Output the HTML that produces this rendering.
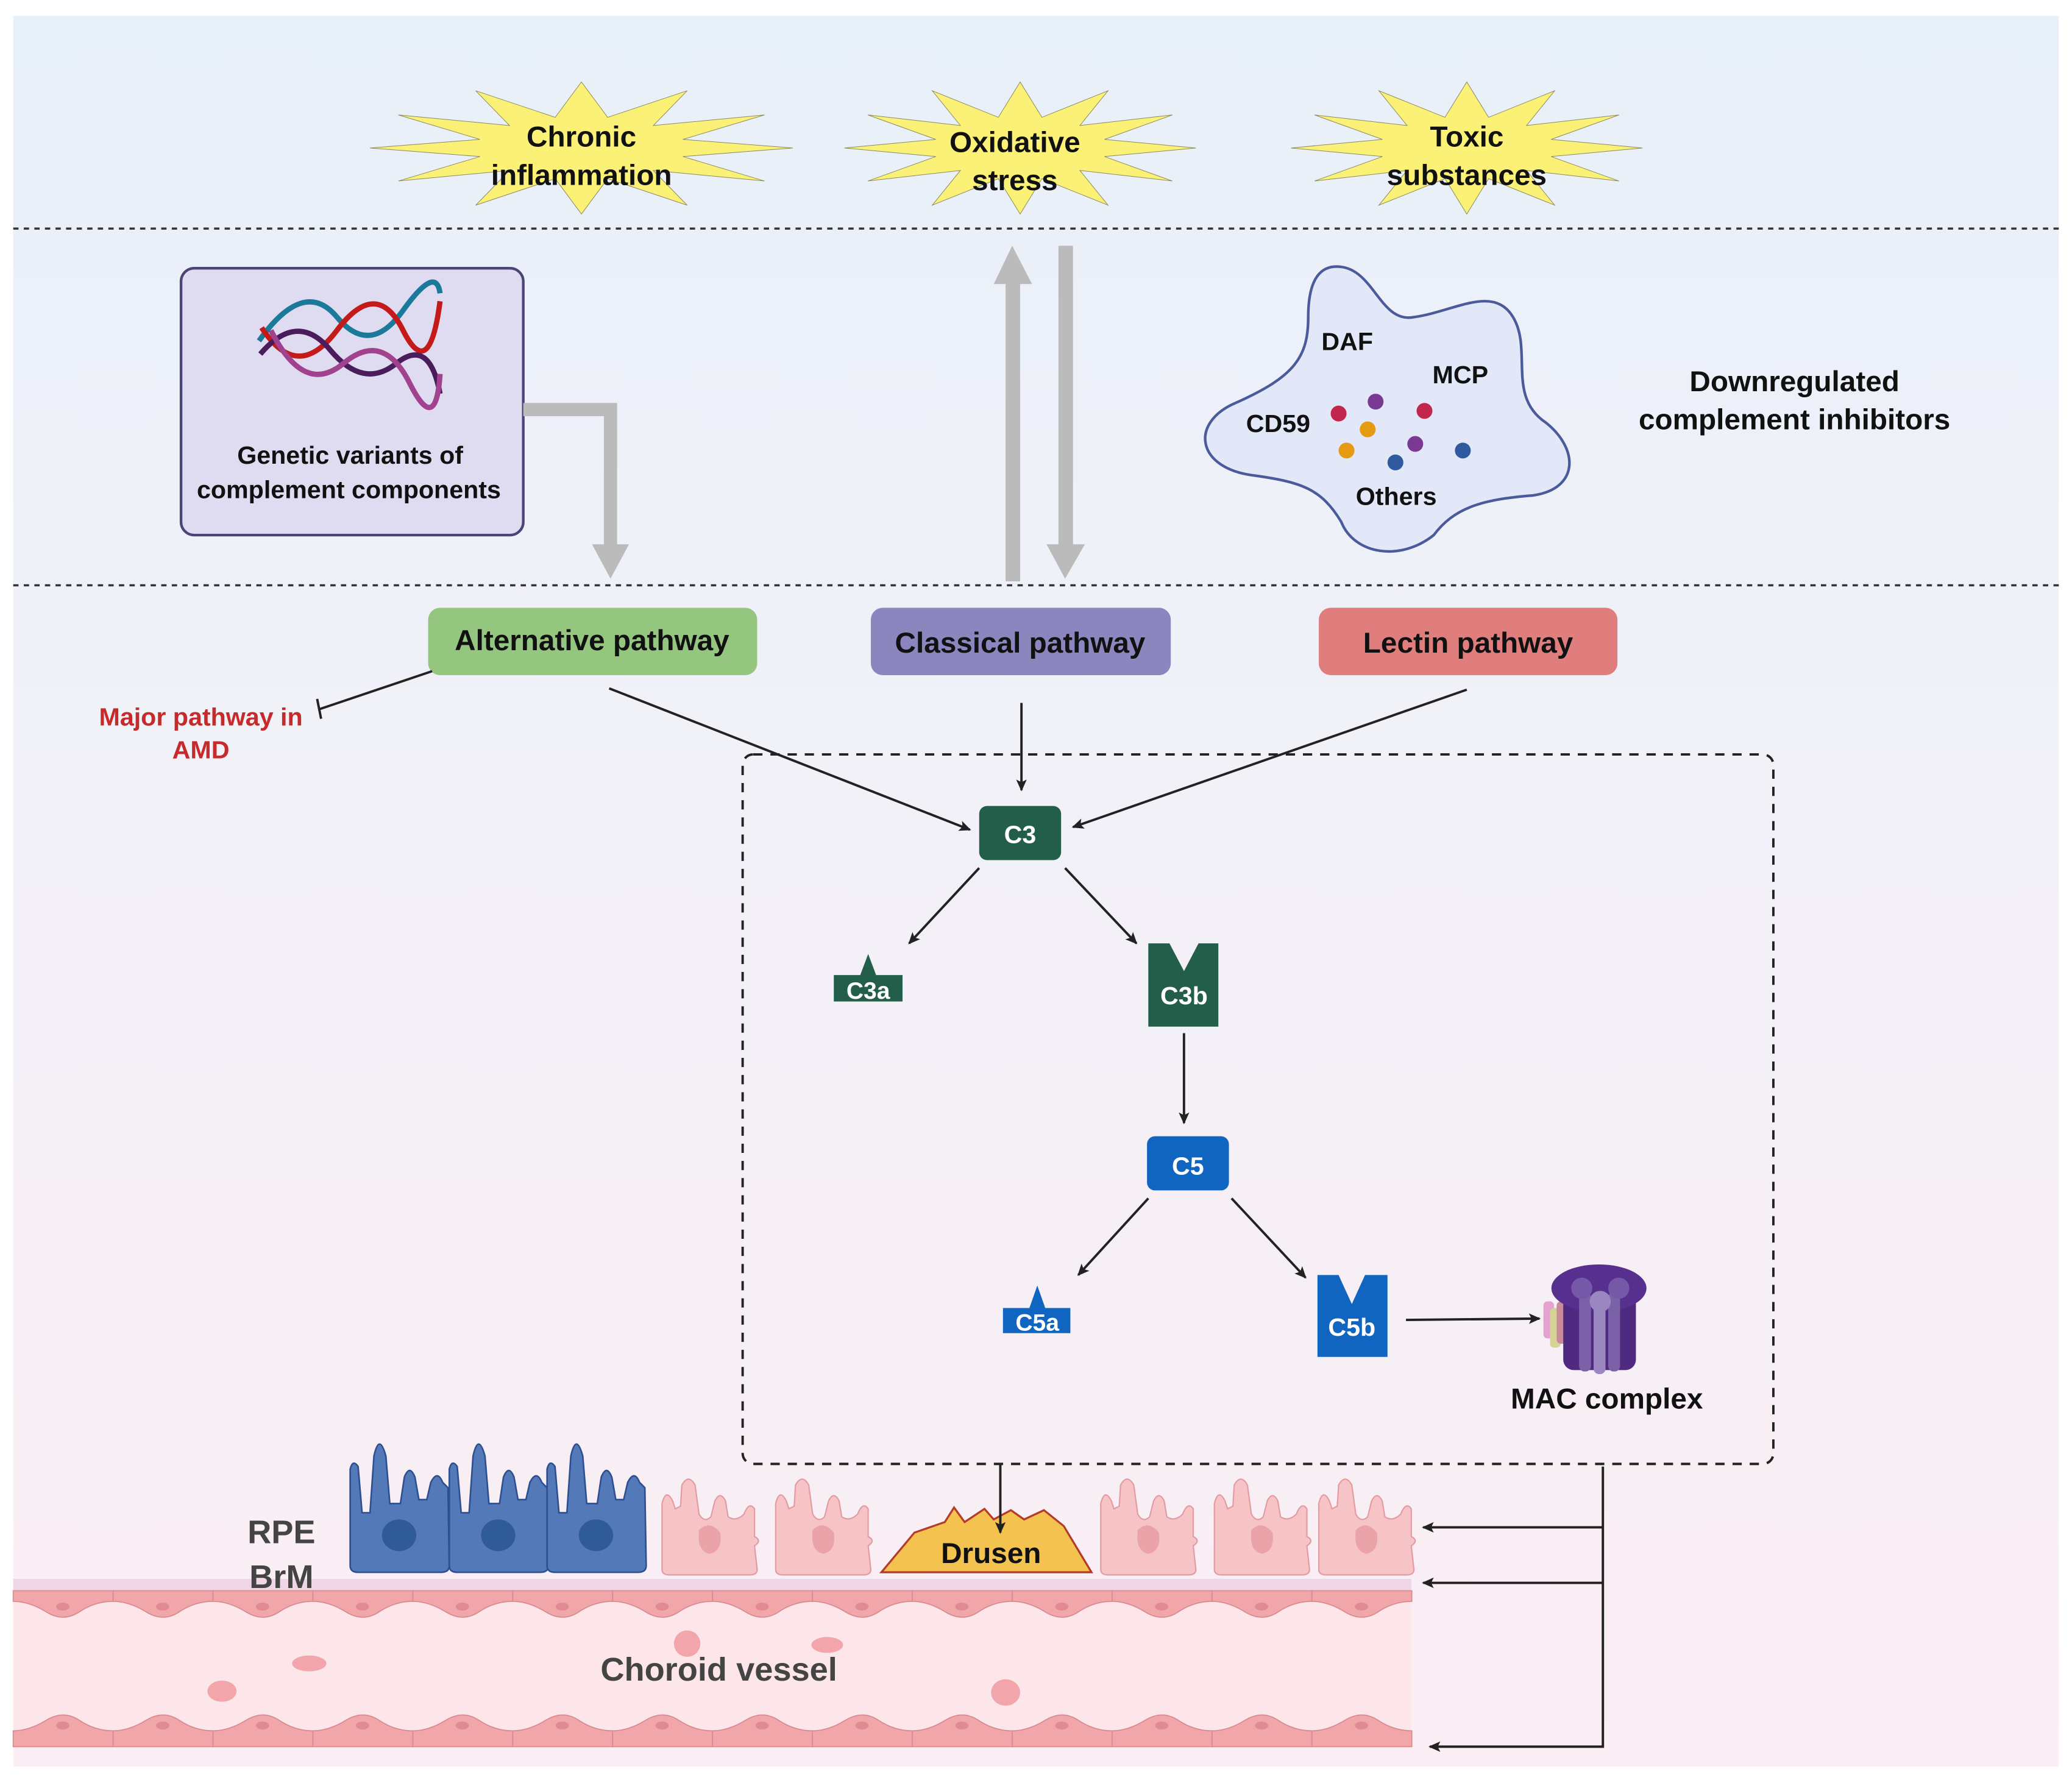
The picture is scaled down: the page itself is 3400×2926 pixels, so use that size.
<!DOCTYPE html>
<html><head><meta charset="utf-8"><style>
html,body{margin:0;padding:0;background:#fff;}
svg{display:block;}
text{font-family:"Liberation Sans",Arial,sans-serif;font-weight:bold;}
</style></head><body>
<svg width="3400" height="2926" viewBox="0 0 1568 1349.5" preserveAspectRatio="none" xmlns="http://www.w3.org/2000/svg">
<defs>
<linearGradient id="bg" x1="0" y1="0" x2="0" y2="1">
<stop offset="0" stop-color="#e8f0f8"/><stop offset="0.4" stop-color="#f1f1f8"/><stop offset="1" stop-color="#fbeef4"/>
</linearGradient>
<polygon id="star" points="1,0 0.48,0.13 0.866,0.5 0.34,0.34 0.5,0.866 0.124,0.464 0,1 -0.124,0.464 -0.5,0.866 -0.34,0.34 -0.866,0.5 -0.48,0.13 -1,0 -0.48,-0.13 -0.866,-0.5 -0.34,-0.34 -0.5,-0.866 -0.124,-0.464 0,-1 0.124,-0.464 0.5,-0.866 0.34,-0.34 0.866,-0.5 0.48,-0.13" fill="#fbf176" stroke="#8a8a60" stroke-width="1" vector-effect="non-scaling-stroke"/>
<marker id="ah" markerWidth="10" markerHeight="10" refX="8" refY="5" orient="auto" markerUnits="userSpaceOnUse"><path d="M0,1 L9,5 L0,9 L2,5Z" fill="#222"/></marker>
<g id="blue">
<path d="M0,95 L0,22 Q2,14 6,20 L9,55 L15,55 L18,12 Q22,-6 27,12 L30,48 L38,48 L41,28 Q45,18 49,28 L52,45 L58,45 L61,32 Q66,22 70,32 L74,36 L75,95 Q75,100 69,100 L6,100 Q0,100 0,95Z" fill="#5379b8" stroke="#2d4f8f" stroke-width="1.2"/>
<ellipse cx="37" cy="72" rx="13" ry="12" fill="#2f5c99"/>
</g>
<g id="pink">
<path d="M0,70 L0,20 Q3,8 8,18 L10,24 L14,22 L15,6 Q20,-3 25,6 L28,28 Q32,35 37,30 L40,18 Q44,10 48,18 L50,30 Q56,34 62,28 Q66,18 70,24 L70,45 Q76,48 70,52 L72,70 Q72,74 66,74 L6,74 Q0,74 0,70Z" fill="#f6c4c7" stroke="#e39ba2" stroke-width="1"/>
<path d="M28,40 Q36,32 44,42 Q46,56 36,58 Q26,56 28,40Z" fill="#eaa3a9"/>
</g>
<g id="endo"><path d="M0,0 L75.6,0 L75.6,8 Q62,8 50,16 Q38,24 25,16 Q12,8 0,8Z" fill="#f1a6aa" stroke="#d98a91" stroke-width="0.8"/><ellipse cx="37.5" cy="12" rx="5" ry="3" fill="#e08a92"/></g>
<g id="endo2"><path d="M0,22 L75.6,22 L75.6,10 Q62,10 50,2 Q38,-6 25,2 Q12,10 0,10Z" fill="#f1a6aa" stroke="#d98a91" stroke-width="0.8"/><ellipse cx="37.5" cy="6" rx="5" ry="3" fill="#e08a92"/></g>
</defs>

<rect x="10" y="12" width="1548" height="1325" fill="url(#bg)"/>

<use href="#star" transform="translate(440,112) scale(160,50)"/>
<use href="#star" transform="translate(772,112) scale(133,50)"/>
<use href="#star" transform="translate(1110,112) scale(133,50)"/>
<text x="440" y="111" font-size="22" text-anchor="middle" fill="#111">Chronic</text>
<text x="440" y="140" font-size="22" text-anchor="middle" fill="#111">inflammation</text>
<text x="768" y="115" font-size="22" text-anchor="middle" fill="#111">Oxidative</text>
<text x="768" y="144" font-size="22" text-anchor="middle" fill="#111">stress</text>
<text x="1110" y="111" font-size="22" text-anchor="middle" fill="#111">Toxic</text>
<text x="1110" y="140" font-size="22" text-anchor="middle" fill="#111">substances</text>

<line x1="10" y1="173" x2="1558" y2="173" stroke="#333" stroke-width="1.6" stroke-dasharray="4,4"/>
<line x1="10" y1="443" x2="1558" y2="443" stroke="#333" stroke-width="1.6" stroke-dasharray="4,4"/>

<rect x="137" y="203" width="259" height="202" rx="10" fill="#dfdcf2" stroke="#4a4575" stroke-width="2"/>
<g fill="none" stroke-width="4">
<path d="M196,258 Q230,210 255,240 T305,235 T333,222" stroke="#1b7a9a"/>
<path d="M198,248 Q225,290 255,250 T305,250 T333,228" stroke="#c41a1a"/>
<path d="M197,268 Q225,235 250,265 T300,275 T333,298" stroke="#4a1c5c"/>
<path d="M205,250 Q230,300 260,275 T310,290 T333,283" stroke="#a0428e"/>
</g>
<text x="265" y="351" font-size="19" text-anchor="middle" fill="#111">Genetic variants of</text>
<text x="264" y="377" font-size="19" text-anchor="middle" fill="#111">complement components</text>

<path d="M396,310 L462,310 L462,415" fill="none" stroke="#bbb" stroke-width="10"/>
<polygon points="448,412 476,412 462,438" fill="#bbb"/>
<rect x="761" y="212" width="11" height="228" fill="#bbb"/>
<polygon points="752,215 781,215 766,186" fill="#bbb"/>
<rect x="801" y="186" width="11" height="228" fill="#bbb"/>
<polygon points="792,412 821,412 806,438" fill="#bbb"/>

<path d="M1015,202 C1040,205 1045,245 1070,240 C1100,236 1130,215 1145,240 C1160,265 1140,300 1170,320 C1195,340 1195,370 1160,375 C1120,378 1100,385 1085,405 C1060,425 1025,420 1015,395 C1000,370 985,365 950,360 C905,355 900,320 935,305 C980,285 990,270 990,240 C990,210 1000,200 1015,202Z" fill="#e2e8f7" stroke="#4a5a9a" stroke-width="2"/>
<text x="1000" y="265" font-size="19" fill="#111">DAF</text>
<text x="1084" y="290" font-size="19" fill="#111">MCP</text>
<text x="943" y="327" font-size="19" fill="#111">CD59</text>
<text x="1026" y="382" font-size="19" fill="#111">Others</text>
<circle cx="1013" cy="313" r="6" fill="#c2264c"/>
<circle cx="1041" cy="304" r="6" fill="#7a3a94"/>
<circle cx="1078" cy="311" r="6" fill="#c2264c"/>
<circle cx="1035" cy="325" r="6" fill="#e59a12"/>
<circle cx="1019" cy="341" r="6" fill="#e59a12"/>
<circle cx="1071" cy="336" r="6" fill="#7a3a94"/>
<circle cx="1056" cy="350" r="6" fill="#2f5aa0"/>
<circle cx="1107" cy="341" r="6" fill="#2f5aa0"/>
<text x="1358" y="296" font-size="22" text-anchor="middle" fill="#111">Downregulated</text>
<text x="1358" y="325" font-size="22" text-anchor="middle" fill="#111">complement inhibitors</text>

<rect x="324" y="460" width="249" height="51" rx="9" fill="#94c680"/>
<text x="448" y="492" font-size="22" text-anchor="middle" fill="#111">Alternative pathway</text>
<rect x="659" y="460" width="227" height="51" rx="9" fill="#8b86bd"/>
<text x="772" y="494" font-size="22" text-anchor="middle" fill="#111">Classical pathway</text>
<rect x="998" y="460" width="226" height="51" rx="9" fill="#e07e7e"/>
<text x="1111" y="494" font-size="22" text-anchor="middle" fill="#111">Lectin pathway</text>

<line x1="327" y1="508" x2="241" y2="537" stroke="#222" stroke-width="1.8"/>
<line x1="240" y1="529" x2="243" y2="544" stroke="#222" stroke-width="1.8"/>
<text x="152" y="549" font-size="19" text-anchor="middle" fill="#c62a2a">Major pathway in</text>
<text x="152" y="574" font-size="19" text-anchor="middle" fill="#c62a2a">AMD</text>

<rect x="562" y="571" width="780" height="537" rx="8" fill="none" stroke="#222" stroke-width="1.8" stroke-dasharray="7,6"/>

<!-- bottom tissue -->
<rect x="10" y="1195" width="1058" height="11" fill="#eed6e6"/>
<rect x="10" y="1206" width="1058" height="114" fill="#fde6e9"/>
<g transform="translate(10,1204)">
<use href="#endo" x="0"/><use href="#endo" x="75.6"/><use href="#endo" x="151.2"/><use href="#endo" x="226.8"/><use href="#endo" x="302.4"/><use href="#endo" x="378"/><use href="#endo" x="453.6"/><use href="#endo" x="529.2"/><use href="#endo" x="604.8"/><use href="#endo" x="680.4"/><use href="#endo" x="756"/><use href="#endo" x="831.6"/><use href="#endo" x="907.2"/><use href="#endo" x="982.8"/>
</g>
<g transform="translate(10,1300)">
<use href="#endo2" x="0"/><use href="#endo2" x="75.6"/><use href="#endo2" x="151.2"/><use href="#endo2" x="226.8"/><use href="#endo2" x="302.4"/><use href="#endo2" x="378"/><use href="#endo2" x="453.6"/><use href="#endo2" x="529.2"/><use href="#endo2" x="604.8"/><use href="#endo2" x="680.4"/><use href="#endo2" x="756"/><use href="#endo2" x="831.6"/><use href="#endo2" x="907.2"/><use href="#endo2" x="982.8"/>
</g>
<g fill="#f2a5ab">
<ellipse cx="520" cy="1244" rx="10" ry="10"/><ellipse cx="626" cy="1245" rx="12" ry="6"/>
<ellipse cx="234" cy="1259" rx="13" ry="6"/><ellipse cx="168" cy="1280" rx="11" ry="8"/><ellipse cx="761" cy="1281" rx="11" ry="10"/>
</g>
<text x="544" y="1272" font-size="25" text-anchor="middle" fill="#444">Choroid vessel</text>

<use href="#blue" transform="translate(265,1090)"/>
<use href="#blue" transform="translate(340,1090)"/>
<use href="#blue" transform="translate(414,1090)"/>
<use href="#pink" transform="translate(501,1118)"/>
<use href="#pink" transform="translate(587,1118)"/>
<use href="#pink" transform="translate(833,1118)"/>
<use href="#pink" transform="translate(919,1118)"/>
<use href="#pink" transform="translate(998,1118)"/>
<path d="M667,1190 L692,1160 L715,1152 L722,1141 L730,1152 L745,1142 L752,1150 L765,1143 L775,1150 L790,1143 L805,1155 L826,1190Z" fill="#f4c24e" stroke="#b53a2a" stroke-width="1.5"/>
<text x="750" y="1183" font-size="22" text-anchor="middle" fill="#111">Drusen</text>
<text x="213" y="1168" font-size="25" text-anchor="middle" fill="#444">RPE</text>
<text x="213" y="1202" font-size="25" text-anchor="middle" fill="#444">BrM</text>

<g stroke="#222" stroke-width="1.8" fill="none" marker-end="url(#ah)">
<line x1="461" y1="521" x2="734" y2="628"/>
<line x1="773" y1="532" x2="773" y2="598"/>
<line x1="1110" y1="522" x2="812" y2="626"/>
<line x1="741" y1="657" x2="688" y2="714"/>
<line x1="806" y1="657" x2="860" y2="714"/>
<line x1="896" y1="782" x2="896" y2="850"/>
<line x1="869" y1="907" x2="816" y2="965"/>
<line x1="932" y1="907" x2="988" y2="967"/>
<line x1="1064" y1="999" x2="1165" y2="998"/>
<line x1="757" y1="1108" x2="757" y2="1160"/>
<polyline points="1213,1110 1213,1322 1082,1322"/>
<line x1="1213" y1="1156" x2="1077" y2="1156"/>
<line x1="1213" y1="1198" x2="1077" y2="1198"/>
</g>

<rect x="741" y="610" width="62" height="41" rx="6" fill="#225e4a"/>
<text x="772" y="638" font-size="19" text-anchor="middle" fill="#fff">C3</text>
<path d="M631,738 L651,738 L657,722 L663,738 L683,738 L683,758 L631,758Z" fill="#225e4a"/>
<text x="657" y="756" font-size="18" text-anchor="middle" fill="#fff">C3a</text>
<path d="M869,714 L885,714 L896,735 L907,714 L922,714 L922,777 L869,777Z" fill="#225e4a"/>
<text x="896" y="760" font-size="19" text-anchor="middle" fill="#fff">C3b</text>
<rect x="868" y="860" width="62" height="41" rx="6" fill="#1065c0"/>
<text x="899" y="889" font-size="19" text-anchor="middle" fill="#fff">C5</text>
<path d="M759,990 L779,990 L785,973 L791,990 L810,990 L810,1009 L759,1009Z" fill="#1065c0"/>
<text x="785" y="1007" font-size="18" text-anchor="middle" fill="#fff">C5a</text>
<path d="M997,965 L1013,965 L1023,987 L1033,965 L1050,965 L1050,1027 L997,1027Z" fill="#1065c0"/>
<text x="1023" y="1011" font-size="19" text-anchor="middle" fill="#fff">C5b</text>

<rect x="1168" y="985" width="8" height="28" rx="3" fill="#e4a3cf"/>
<rect x="1173" y="990" width="8" height="30" rx="3" fill="#d6d397"/>
<rect x="1178" y="985" width="8" height="32" rx="3" fill="#c98b9a"/>
<rect x="1183" y="975" width="55" height="62" rx="8" fill="#4e2a80"/>
<ellipse cx="1210" cy="975" rx="36" ry="18" fill="#57308f"/>
<rect x="1195" y="978" width="9" height="60" rx="4" fill="#7a61a8"/>
<rect x="1206" y="978" width="9" height="62" rx="4" fill="#9a87c0"/>
<rect x="1217" y="978" width="9" height="60" rx="4" fill="#7a61a8"/>
<circle cx="1197" cy="975" r="8" fill="#7558a8"/><circle cx="1225" cy="975" r="8" fill="#7558a8"/><circle cx="1211" cy="985" r="8" fill="#9a87c0"/>
<text x="1216" y="1066" font-size="22" text-anchor="middle" fill="#111">MAC complex</text>
</svg>
</body></html>
